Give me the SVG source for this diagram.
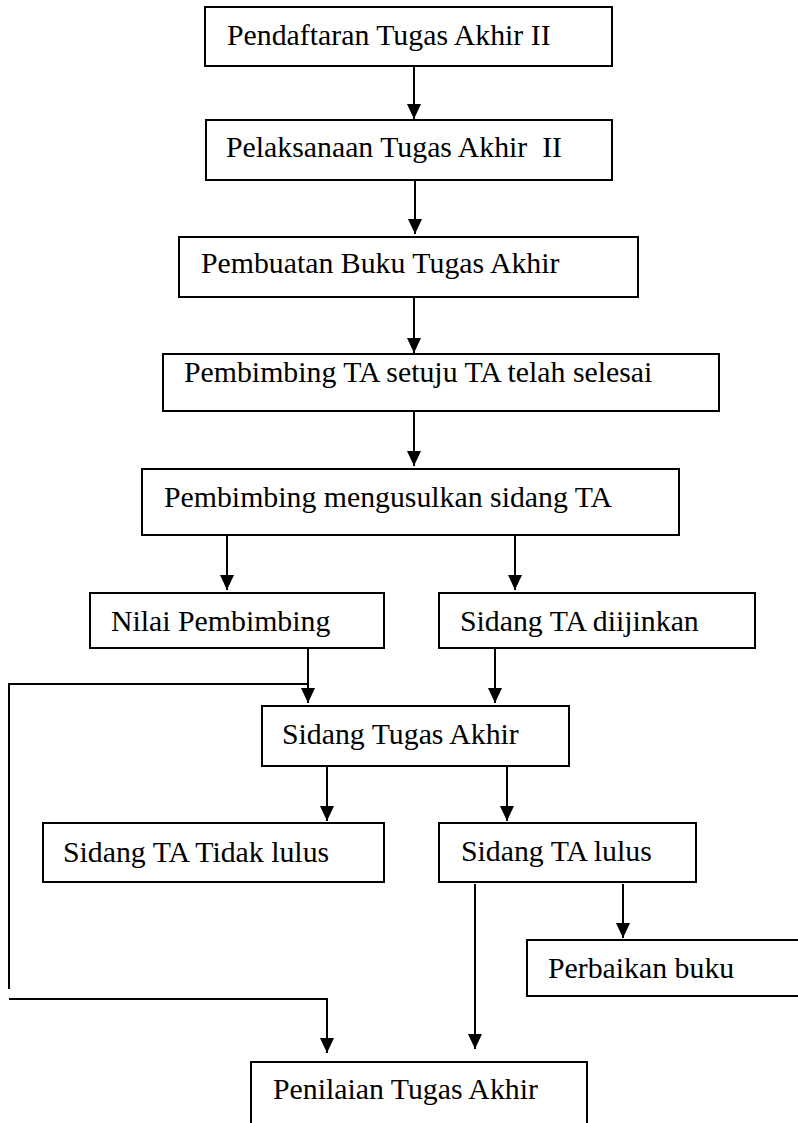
<svg xmlns="http://www.w3.org/2000/svg" width="798" height="1123" viewBox="0 0 798 1123">
<style>
.box{fill:#fff;stroke:#000;stroke-width:2}
.t{font-family:"Liberation Serif","Times New Roman",serif;font-size:29.8px;fill:#000}
.c{fill:none;stroke:#000;stroke-width:2}
</style>
<defs>
<marker id="ah" viewBox="0 0 15 14" markerWidth="15" markerHeight="14" refX="15" refY="7" orient="auto" markerUnits="userSpaceOnUse">
<path d="M0,0 L15,7 L0,14 z" fill="#000"/>
</marker>
</defs>
<rect width="798" height="1123" fill="#fff"/>
<g id="connectors">
<line class="c" x1="414" y1="66" x2="414" y2="119" marker-end="url(#ah)"/>
<line class="c" x1="415" y1="180" x2="415" y2="234" marker-end="url(#ah)"/>
<line class="c" x1="414" y1="297" x2="414" y2="353" marker-end="url(#ah)"/>
<line class="c" x1="414" y1="411" x2="414" y2="466" marker-end="url(#ah)"/>
<line class="c" x1="227" y1="536" x2="227" y2="590" marker-end="url(#ah)"/>
<line class="c" x1="515" y1="536" x2="515" y2="590" marker-end="url(#ah)"/>
<line class="c" x1="308" y1="649" x2="308" y2="703" marker-end="url(#ah)"/>
<polyline class="c" points="9,989 9,684 308,684"/>
<line class="c" x1="495" y1="649" x2="495" y2="703" marker-end="url(#ah)"/>
<line class="c" x1="327" y1="767" x2="327" y2="821" marker-end="url(#ah)"/>
<line class="c" x1="507" y1="767" x2="507" y2="821" marker-end="url(#ah)"/>
<line class="c" x1="623" y1="884" x2="623" y2="938" marker-end="url(#ah)"/>
<line class="c" x1="475" y1="884" x2="475" y2="1049" marker-end="url(#ah)"/>
<polyline class="c" points="9,999 327,999 327,1053" marker-end="url(#ah)"/>
</g>
<g id="n1"><rect class="box" x="205" y="7" width="407" height="59"/><text class="t" x="227" y="45">Pendaftaran Tugas Akhir II</text></g>
<g id="n2"><rect class="box" x="206" y="120" width="406" height="60"/><text class="t" x="226" y="157" xml:space="preserve">Pelaksanaan Tugas Akhir  II</text></g>
<g id="n3"><rect class="box" x="179" y="237" width="459" height="60"/><text class="t" x="201" y="273">Pembuatan Buku Tugas Akhir</text></g>
<g id="n4"><rect class="box" x="163" y="354" width="556" height="57"/><text class="t" x="184" y="382">Pembimbing TA setuju TA telah selesai</text></g>
<g id="n5"><rect class="box" x="142" y="469" width="537" height="66"/><text class="t" x="164" y="507">Pembimbing mengusulkan sidang TA</text></g>
<g id="n6"><rect class="box" x="90" y="593" width="294" height="55"/><text class="t" x="111" y="631">Nilai Pembimbing</text></g>
<g id="n7"><rect class="box" x="439" y="593" width="316" height="55"/><text class="t" x="460" y="631">Sidang TA diijinkan</text></g>
<g id="n8"><rect class="box" x="262" y="706" width="307" height="60"/><text class="t" x="282" y="744">Sidang Tugas Akhir</text></g>
<g id="n9"><rect class="box" x="43" y="823" width="341" height="59"/><text class="t" x="63" y="862">Sidang TA Tidak lulus</text></g>
<g id="n10"><rect class="box" x="439" y="823" width="257" height="59"/><text class="t" x="461" y="861">Sidang TA lulus</text></g>
<g id="n11"><rect class="box" x="527" y="940" width="290" height="56"/><text class="t" x="548" y="978">Perbaikan buku</text></g>
<g id="n12"><rect class="box" x="251" y="1062" width="336" height="80"/><text class="t" x="273" y="1099">Penilaian Tugas Akhir</text></g>
</svg>
